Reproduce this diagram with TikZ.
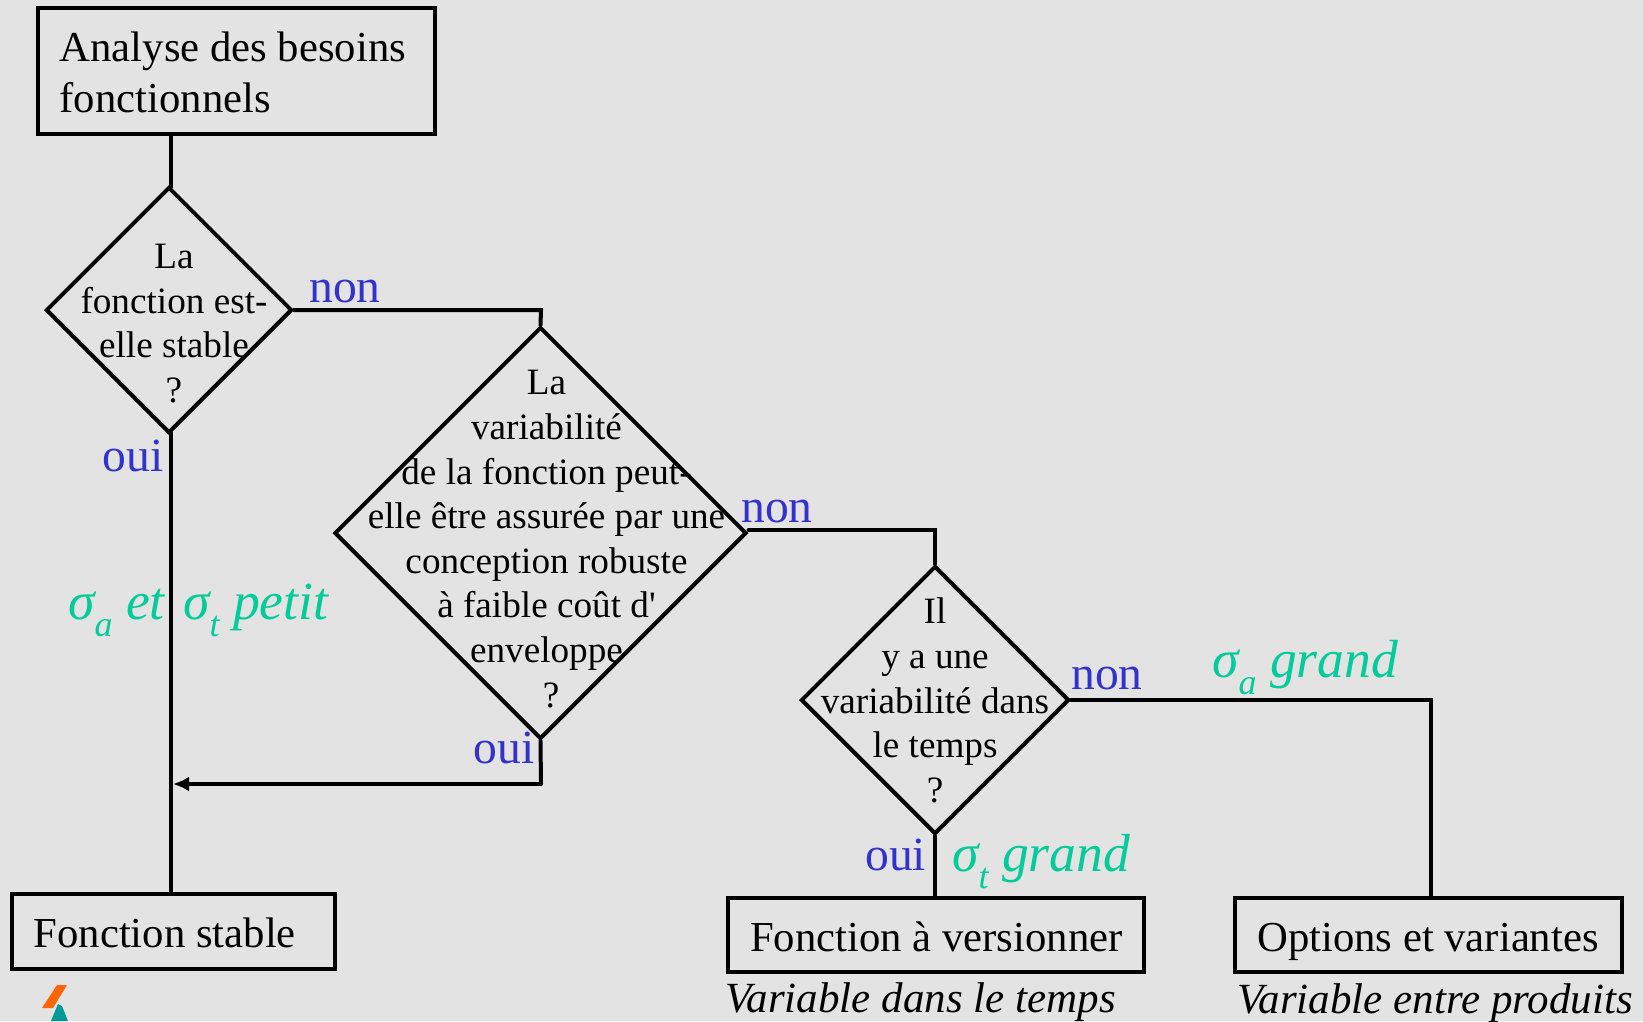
\documentclass[tikz,border=0pt]{standalone}
\usepackage{fontspec}
\setmainfont{Liberation Serif}
\usetikzlibrary{shapes.geometric,arrows.meta}
\definecolor{bgc}{HTML}{E3E3E3}
\definecolor{bluec}{HTML}{3333CC}
\definecolor{greenc}{HTML}{00CC99}
\definecolor{logoorange}{HTML}{FF6600}
\definecolor{logoteal}{HTML}{009999}
\newcommand{\subgr}[1]{\raisebox{-0.32em}{\fontsize{36}{36}\selectfont #1}}
\tikzset{
  x=1pt,y=-1pt,
  line/.style={line width=4pt,line cap=round,line join=miter},
  boxn/.style={draw,line width=4pt,rectangle,inner sep=0pt},
  dia/.style={draw,line width=4pt,diamond,aspect=1,inner sep=0pt},
  big/.style={font=\fontsize{42.7}{51}\selectfont,anchor=base west,inner sep=0pt,align=left},
  dtext/.style={font=\fontsize{37.2}{44.6}\selectfont,inner sep=0pt,align=center},
  lab/.style={font=\fontsize{47.6}{50}\selectfont,text=bluec,anchor=base west,inner sep=0pt},
  grn/.style={font=\fontsize{53.6}{53.6}\selectfont\itshape,text=greenc,anchor=base west,inner sep=0pt},
  ital/.style={font=\fontsize{43}{50}\selectfont\itshape,anchor=base west,inner sep=0pt},
}
\begin{document}
\begin{tikzpicture}
\fill[bgc] (0,0) rectangle (1643,1021);
\useasboundingbox (0,0) rectangle (1643,1021);
% boxes
\node[boxn,minimum width=397pt,minimum height=126pt] (b1) at (236.5,71) {};
\node[boxn,minimum width=323.5pt,minimum height=75pt] (b2) at (173.5,931.5) {};
\node[boxn,minimum width=416pt,minimum height=74pt] (b3) at (936,935) {};
\node[boxn,minimum width=387pt,minimum height=74pt] (b4) at (1428.5,935) {};
% diamonds
\node[dia,minimum size=246pt] (d1) at (169,310) {};
\node[dia,minimum size=412pt] (d2) at (540.5,533) {};
\node[dia,minimum size=268pt] (d3) at (935,700) {};
% texts
\node[big] (t1) at (59.5,112) {Analyse des besoins\\fonctionnels};
\node[big] (t2) at (33.5,947) {Fonction stable};
\node[big] (t3) at (750,951) {Fonction à versionner};
\node[big] (t4) at (1257,951) {Options et variantes};
\node[dtext] (td1) at (174,323.5) {La\\fonction est-\\elle stable\\?};
\node[dtext] (td2) at (546.5,539) {La\\variabilité\\de la fonction peut-\\elle être assurée par une\\conception robuste\\à faible coût d\textquotesingle\\enveloppe\\\hspace*{0.25em}?};
\node[dtext] (td3) at (935,700.5) {Il\\y a une\\variabilité dans\\le temps\\?};
% connector points
\coordinate (c1a) at (171,134);
\coordinate (c1b) at (171,187);
\coordinate (c2a) at (171,433);
\coordinate (c2b) at (171,894);
\coordinate (c3) at (541,310);
\coordinate (c4) at (935,530);
\coordinate (c5) at (1431,700);
\coordinate (c5b) at (1431,898);
\coordinate (c6) at (541,784);
\coordinate (c7) at (173,784);
% connectors
\draw[line] (c1a) -- (c1b);
\draw[line] (c2a) -- (c2b);
\draw[line] (d1.east) -- (c3) -- (d2.north);
\draw[line] (d2.east |- c4) -- (c4) -- (d3.north);
\draw[line] (d3.east) -- (c5) -- (c5b);
\draw[line] (d2.south) -- (c6);
\draw[line,line cap=butt,-{Latex[length=16pt,width=15pt]}] (c6) -- (c7);
\draw[line] (d3.south) -- (b3.north -| d3.south);
% labels
\node[lab] (n1) at (309,302) {non};
\node[lab] (o1) at (102.5,471) {oui};
\node[lab] (n2) at (741,522) {non};
\node[lab] (o2) at (473.5,763) {oui};
\node[lab] (n3) at (1071,689) {non};
\node[lab] (o3) at (865,870) {oui};
\node[grn] (g1) at (68,619) {σ\subgr{a} et};
\node[grn] (g2) at (183,619) {σ\subgr{t} petit};
\node[grn] (g3) at (1212,677) {σ\subgr{a} grand};
\node[grn] (g4) at (952,871) {σ\subgr{t} grand};
\node[ital] (v1) at (725,1012) {Variable dans le temps};
\node[ital] (v2) at (1237,1013) {Variable entre produits};
% logo
\fill[logoorange] (57,985) -- (67,985) -- (53,1008) -- (42,1008) -- cycle;
\fill[logoteal] (58,1004) -- (62,1006) -- (68,1021) -- (51,1021) -- cycle;
\end{tikzpicture}
\end{document}
